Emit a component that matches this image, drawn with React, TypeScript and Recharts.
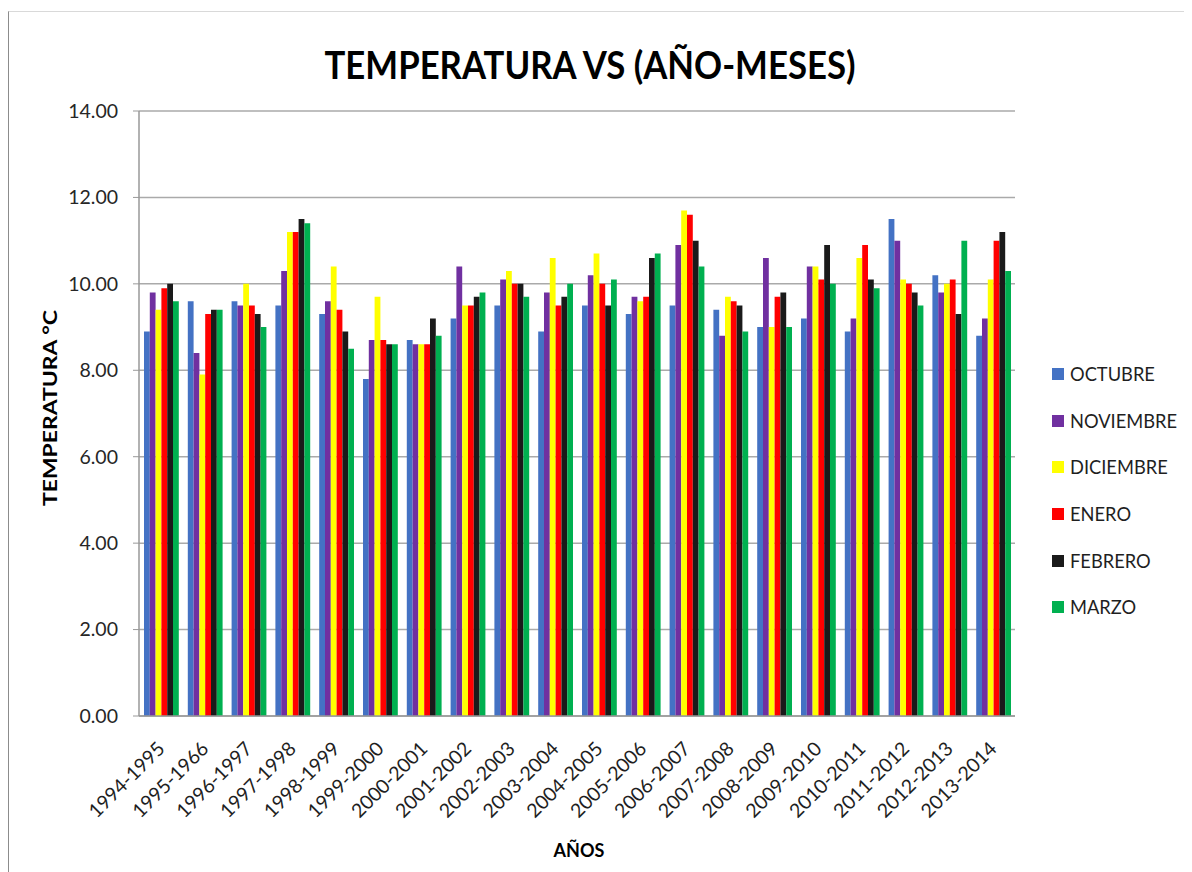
import React from 'react';
import { BarChart, Bar, XAxis, YAxis, CartesianGrid, Legend } from 'recharts';

const CATEGORIES = ['1994-1995','1995-1966','1996-1997','1997-1998','1998-1999','1999-2000','2000-2001','2001-2002','2002-2003','2003-2004','2004-2005','2005-2006','2006-2007','2007-2008','2008-2009','2009-2010','2010-2011','2011-2012','2012-2013','2013-2014'];
const OCTUBRE = [8.9,9.6,9.6,9.5,9.3,7.8,8.7,9.2,9.5,8.9,9.5,9.3,9.5,9.4,9.0,9.2,8.9,11.5,10.2,8.8];
const NOVIEMBRE = [9.8,8.4,9.5,10.3,9.6,8.7,8.6,10.4,10.1,9.8,10.2,9.7,10.9,8.8,10.6,10.4,9.2,11.0,9.8,9.2];
const DICIEMBRE = [9.4,7.9,10.0,11.2,10.4,9.7,8.6,9.5,10.3,10.6,10.7,9.6,11.7,9.7,9.0,10.4,10.6,10.1,10.0,10.1];
const ENERO = [9.9,9.3,9.5,11.2,9.4,8.7,8.6,9.5,10.0,9.5,10.0,9.7,11.6,9.6,9.7,10.1,10.9,10.0,10.1,11.0];
const FEBRERO = [10.0,9.4,9.3,11.5,8.9,8.6,9.2,9.7,10.0,9.7,9.5,10.6,11.0,9.5,9.8,10.9,10.1,9.8,9.3,11.2];
const MARZO = [9.6,9.4,9.0,11.4,8.5,8.6,8.8,9.8,9.7,10.0,10.1,10.7,10.4,8.9,9.0,10.0,9.9,9.5,11.0,10.3];
const Y_TICKS = [0,2,4,6,8,10,12,14];

const SERIES = [
  { key: 'OCTUBRE', values: OCTUBRE, color: '#4472C4' },
  { key: 'NOVIEMBRE', values: NOVIEMBRE, color: '#7030A0' },
  { key: 'DICIEMBRE', values: DICIEMBRE, color: '#FFFF00' },
  { key: 'ENERO', values: ENERO, color: '#FF0000' },
  { key: 'FEBRERO', values: FEBRERO, color: '#1A1A1A' },
  { key: 'MARZO', values: MARZO, color: '#00B050' },
];

const DATA = CATEGORIES.map((c, i) => {
  const row: any = { name: c };
  SERIES.forEach(s => { row[s.key] = s.values[i]; });
  return row;
});

const FONT = 'Lato, "Open Sans", sans-serif';

const XTick = (props: any) => {
  const { x, y, payload } = props;
  const ax = x + 5;
  const ay = y + 34;
  return (
    <text x={ax} y={ay} textAnchor="end" transform={`rotate(-45, ${ax}, ${ay})`}
      fontFamily={FONT} fontSize={19.5} fill="#1f1f1f">{payload.value}</text>
  );
};

const LegendContent = () => (
  <div style={{ fontFamily: FONT }}>
    {SERIES.map(s => (
      <div key={s.key} style={{ height: 46.6, display: 'flex', alignItems: 'center' }}>
        <div style={{ width: 12, height: 12, background: s.color, marginRight: 6 }} />
        <span style={{ fontSize: 18.3, color: '#1f1f1f' }}>{s.key}</span>
      </div>
    ))}
  </div>
);

export default function App() {
  return (
    <div style={{ position: 'relative', width: 1184, height: 864 }}>
      <div style={{ position: 'absolute', left: 0, top: 3, width: 1184, height: 861, borderLeft: '1px solid #8c8c8c', borderTop: '1px solid #d9d9d9', boxSizing: 'border-box' }} />
      <BarChart width={1184} height={864} data={DATA}
        margin={{ top: 103, right: 177, bottom: 56, left: 71 }}
        barCategoryGap="10%" barGap={0} barSize={5.8}>
        <CartesianGrid vertical={false} stroke="#aaaaaa" strokeWidth={1.5} />
        <XAxis dataKey="name" interval={0} height={100} tickLine={false} tickSize={0} tickMargin={0}
          axisLine={{ stroke: '#999999', strokeWidth: 1.5 }} tick={<XTick />} />
        <YAxis width={60} domain={[0, 14]} ticks={Y_TICKS} tickSize={6} tickMargin={15}
          tickFormatter={(v: number) => v.toFixed(2)}
          axisLine={{ stroke: '#999999', strokeWidth: 1.5 }} tickLine={{ stroke: '#999999' }}
          tick={{ fontFamily: FONT, fontSize: 19.5, fill: '#262626' }} />
        <Legend layout="vertical" align="center" verticalAlign="middle"
          wrapperStyle={{ left: 1044, top: 343, width: 140 }} content={<LegendContent />} />
        {SERIES.map(s => (
          <Bar key={s.key} dataKey={s.key} fill={s.color} isAnimationActive={false} />
        ))}
      </BarChart>
      <svg width={1184} height={864} style={{ position: 'absolute', left: 0, top: 0, pointerEvents: 'none' }}>
        <text x={582} y={71} textAnchor="middle" fontFamily={FONT} fontWeight="bold" fontSize={38}
          textLength={531} lengthAdjust="spacingAndGlyphs" fill="#000">TEMPERATURA VS (AÑO-MESES)</text>
        <text x={49} y={400} textAnchor="middle" transform="rotate(-90, 49, 400)" fontFamily={FONT}
          fontWeight="bold" fontSize={18} textLength={196} lengthAdjust="spacingAndGlyphs" fill="#000">TEMPERATURA °C</text>
        <text x={571} y={849} textAnchor="middle" fontFamily={FONT} fontWeight="bold" fontSize={18} fill="#000">AÑOS</text>
      </svg>
    </div>
  );
}
